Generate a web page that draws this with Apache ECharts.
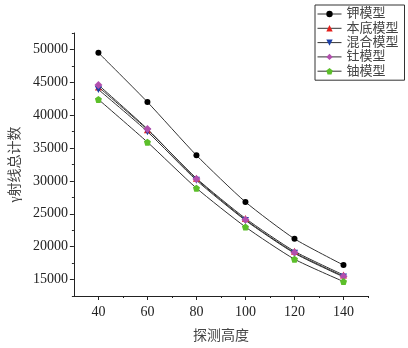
<!DOCTYPE html>
<html>
<head>
<meta charset="utf-8">
<script src="https://cdn.jsdelivr.net/npm/echarts@6/dist/echarts.min.js"></script>
<style>
  html, body { margin: 0; padding: 0; background: #fff; }
  #chart { width: 408px; height: 348px; }
</style>
</head>
<body>
<div id="chart"></div>
<script>
// detection heights
var heights = [40, 60, 80, 100, 120, 140];
// gamma counts
var kModel = [49500, 42000, 33900, 26800, 21200, 17200];
var bgModel = [44300, 37800, 30400, 24300, 19300, 15700];
var mixModel = [43900, 37500, 30100, 24000, 19000, 15400];
var thModel = [44600, 37900, 30300, 24100, 19100, 15500];
var uModel = [42400, 35900, 28900, 23000, 18100, 14700];
var names = ['钾模型', '本底模型', '混合模型', '钍模型', '铀模型'];
// tick values
var xMajor = [40, 60, 80, 100, 120, 140];
var xMinor = [50, 70, 90, 110, 130, 150];
var yMajor = [15000, 20000, 25000, 30000, 35000, 40000, 45000, 50000];
var yMinor = [12500, 17500, 22500, 27500, 32500, 37500, 42500, 47500, 52500];

var font = '"Liberation Serif", "Noto Sans CJK SC", serif';

function pairs(vals) {
    return heights.map(function (h, i) { return [h, vals[i]]; });
}

function mkSeries(name, vals, symbol, color, size, rotate) {
    return {
        name: name,
        type: 'line',
        data: pairs(vals),
        smooth: 0.2,
        symbol: symbol,
        symbolSize: size,
        symbolRotate: rotate || 0,
        lineStyle: { color: '#333', width: 1 },
        itemStyle: { color: color },
        emphasis: { disabled: true }
    };
}

var axisLine = { show: true, lineStyle: { color: '#222', width: 1 } };

var option = {
    animation: false,
    grid: { left: 68, right: 40, top: 33, bottom: 44 },
    legend: {
        orient: 'vertical',
        left: 315,
        top: 5,
        data: names,
        itemWidth: 24,
        itemHeight: 8,
        itemGap: 0.3,
        padding: [2, 6, 2, 2],
        borderColor: '#333',
        borderWidth: 1,
        lineStyle: { width: 1, color: '#333' },
        textStyle: { fontFamily: font, fontSize: 13, lineHeight: 14, color: '#444' }
    },
    xAxis: [{
        type: 'value',
        min: 30,
        max: 150,
        name: '探测高度',
        nameLocation: 'middle',
        nameGap: 33,
        nameTextStyle: { fontFamily: font, fontSize: 14, color: '#444' },
        axisLine: axisLine,
        axisTick: { show: true, length: 4, customValues: xMajor, lineStyle: { color: '#222' } },
        axisLabel: { customValues: xMajor, fontFamily: font, fontSize: 14, color: '#222', margin: 9 },
        splitLine: { show: false }
    }, {
        type: 'value',
        min: 30,
        max: 150,
        position: 'bottom',
        axisLine: { show: false },
        axisTick: { show: true, length: 2, customValues: xMinor, lineStyle: { color: '#222' } },
        axisLabel: { show: false },
        splitLine: { show: false }
    }],
    yAxis: [{
        type: 'value',
        min: 12500,
        max: 52500,
        name: 'γ射线总计数',
        nameLocation: 'middle',
        nameGap: 32,
        nameTextStyle: { fontFamily: font, fontSize: 14, color: '#444' },
        axisLine: axisLine,
        axisTick: { show: true, length: 4, customValues: yMajor, lineStyle: { color: '#222' } },
        axisLabel: {
            customValues: yMajor,
            formatter: function (v) { return String(v); },
            fontFamily: font, fontSize: 14, color: '#222', margin: 6
        },
        splitLine: { show: false }
    }, {
        type: 'value',
        min: 12500,
        max: 52500,
        position: 'left',
        axisLine: { show: false },
        axisTick: { show: true, length: 2, customValues: yMinor, lineStyle: { color: '#222' } },
        axisLabel: { show: false },
        splitLine: { show: false }
    }],
    series: [
        mkSeries(names[0], kModel, 'circle', '#000', 6),
        mkSeries(names[1], bgModel, 'triangle', '#e3201c', 7),
        mkSeries(names[2], mixModel, 'triangle', '#1c3fa6', 7, 180),
        mkSeries(names[3], thModel, 'diamond', '#b24fae', 8),
        mkSeries(names[4], uModel, 'path://M0,-10 L9.5,-3.1 L5.9,8.1 L-5.9,8.1 L-9.5,-3.1 Z', '#5cbf2a', 7)
    ]
};

var myChart = echarts.init(document.getElementById('chart'));
myChart.setOption(option);
</script>
</body>
</html>
